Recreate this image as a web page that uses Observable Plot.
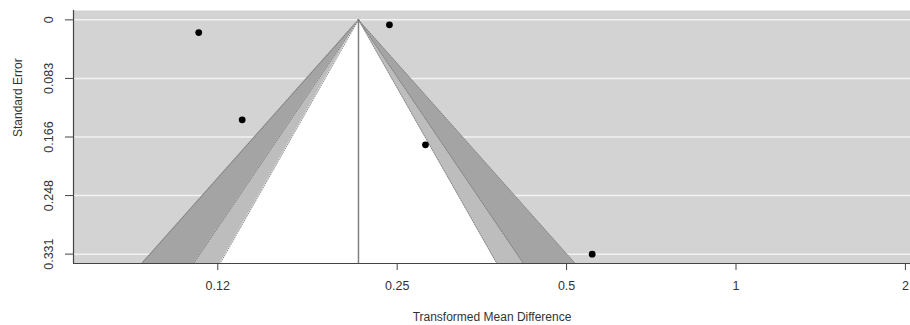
<!DOCTYPE html>
<html>
<head>
<meta charset="utf-8">
<script src="https://cdn.jsdelivr.net/npm/d3@7"></script>
<script src="https://cdn.jsdelivr.net/npm/@observablehq/plot@0.6"></script>
<style>
  html, body { margin: 0; padding: 0; background: #fff; }
  #chart svg { display: block; }
</style>
</head>
<body>
<div id="chart"></div>
<script>
// Study effects (transformed mean difference) and their standard errors
const studyEffect = [0.1110, 0.1326, 0.2422, 0.2807, 0.5552];
const studySE     = [0.0179, 0.1413, 0.0070, 0.1765, 0.3310];

// Pooled estimate (apex of funnel)
const pooledEstimate = 0.2134;

// Contour levels (z for 99%, 95%, 90%) and shades
const contourZ     = [2.576, 1.960, 1.645];
const contourFill  = ["#a4a4a4", "#bdbdbd", "#ffffff"];

// Axis ticks
const xTicks = [0.12, 0.25, 0.5, 1, 2];
const xTickLabels = ["0.12", "0.25", "0.5", "1", "2"];
const seTicks = [0, 0.08275, 0.1655, 0.24825, 0.331];
const seTickLabels = ["0", "0.083", "0.166", "0.248", "0.331"];

const xDomain = [0.0665, 2.042];
const yDomain = [-0.01324, 0.34424];

const studies = studyEffect.map((v, i) => ({x: v, se: studySE[i]}));
const seBottom = yDomain[1];
const lnEst = Math.log(pooledEstimate);

const regions = contourZ.map((z, i) => ({
  z, fill: contourFill[i],
  pts: [
    {se: 0, x1: pooledEstimate, x2: pooledEstimate},
    {se: seBottom, x1: Math.exp(lnEst - z * seBottom), x2: Math.exp(lnEst + z * seBottom)}
  ]
}));

function lookup(ticks, labels) {
  return d => {
    let best = 0, bd = Infinity;
    ticks.forEach((t, i) => { const e = Math.abs(t - d); if (e < bd) { bd = e; best = i; } });
    return labels[best];
  };
}

const font = "'Liberation Sans', Arial, Helvetica, sans-serif";

const marks = [
  Plot.frame({fill: "#d3d3d3", stroke: null}),
  Plot.ruleY(seTicks, {stroke: "#f2f2f2", strokeWidth: 1.5})
];
for (const r of regions) {
  marks.push(Plot.areaX(r.pts, {y: "se", x1: "x1", x2: "x2", fill: r.fill, curve: "linear"}));
}
for (const r of regions) {
  marks.push(Plot.line(r.pts, {y: "se", x: "x1", stroke: "#6e6e6e", strokeWidth: 0.8, strokeDasharray: "1,1.5"}));
  marks.push(Plot.line(r.pts, {y: "se", x: "x2", stroke: "#6e6e6e", strokeWidth: 0.8, strokeDasharray: "1,1.5"}));
}
marks.push(
  Plot.ruleX([pooledEstimate], {y1: 0, y2: seBottom, stroke: "#808080", strokeWidth: 1.5}),
  Plot.dot(studies, {x: "x", y: "se", r: 3.4, fill: "black", stroke: null}),
  Plot.ruleX([xDomain[0]], {stroke: "#444", strokeWidth: 1.2}),
  Plot.ruleY([yDomain[1]], {stroke: "#444", strokeWidth: 1.2}),
  Plot.axisX(xTicks, {tickFormat: lookup(xTicks, xTickLabels), tickSize: 7, tickPadding: 11,
              fontSize: 12.5, label: null, stroke: "#444", fill: "#333"}),
  Plot.axisY(seTicks, {tickFormat: lookup(seTicks, seTickLabels), tickSize: 8, tickPadding: 13,
              tickRotate: -90, fontSize: 12.5, label: null, stroke: "#444", fill: "#333"}),
  Plot.text(["Transformed Mean Difference"], {frameAnchor: "bottom", dy: 54, fontSize: 12, fill: "#333", lineAnchor: "middle"}),
  Plot.text(["Standard Error"], {frameAnchor: "left", dx: -55, rotate: -90, fontSize: 12, fill: "#333", lineAnchor: "middle"})
);

const chart = Plot.plot({
  width: 910,
  height: 325,
  marginLeft: 73,
  marginRight: 0,
  marginTop: 10,
  marginBottom: 62,
  style: {fontFamily: font, background: "#fff"},
  x: {type: "log", domain: xDomain},
  y: {domain: yDomain, reverse: true},
  marks
});
document.getElementById("chart").appendChild(chart);
</script>
</body>
</html>
